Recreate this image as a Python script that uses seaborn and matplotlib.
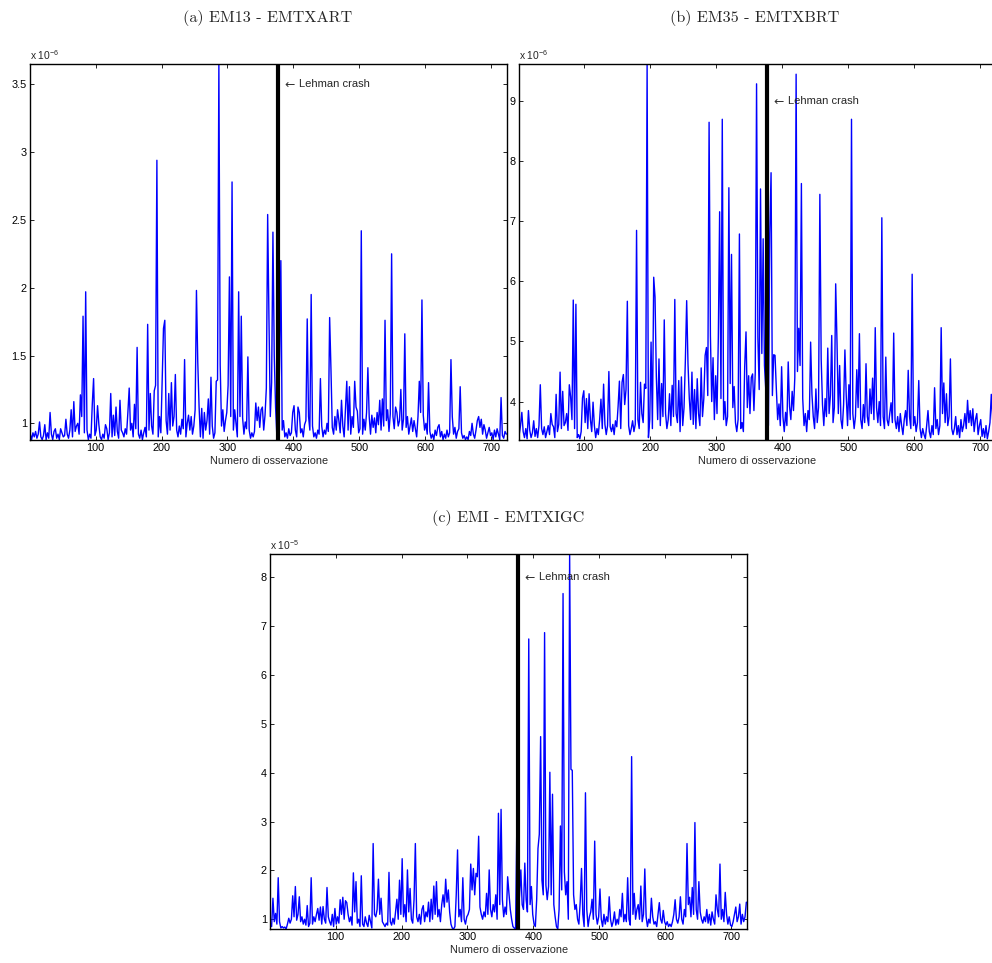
import matplotlib
matplotlib.use("Agg")
import matplotlib.pyplot as plt
import seaborn as sns
import pandas as pd

# observation numbers (every second observation)
obs = list(range(1, 724, 2))

# (a) EM13 - EMTXART, units of 1e-6
a_vals = [
    0.92, 0.88, 0.93, 0.90, 0.94, 0.89, 0.92, 1.01, 0.90, 0.88,
    0.91, 0.99, 0.88, 0.93, 0.89, 1.08, 0.92, 0.88, 0.94, 0.96,
    0.89, 0.92, 0.88, 0.96, 0.93, 0.90, 0.91, 1.03, 0.92, 0.89,
    0.95, 1.10, 0.90, 1.16, 0.94, 0.98, 1.00, 0.92, 1.21, 1.05,
    1.79, 0.93, 1.97, 0.95, 0.88, 0.92, 0.89, 1.14, 1.33, 0.91,
    0.95, 1.13, 0.99, 0.90, 0.88, 0.92, 0.89, 0.99, 0.96, 0.88,
    0.93, 1.22, 0.90, 1.06, 0.91, 1.12, 0.94, 0.89, 1.17, 0.95,
    0.93, 0.90, 0.96, 0.92, 1.08, 1.26, 0.95, 1.00, 0.90, 1.14,
    0.96, 1.56, 0.92, 0.89, 0.95, 0.88, 0.93, 0.97, 0.90, 1.73,
    0.95, 1.22, 0.98, 0.92, 1.24, 1.28, 2.94, 0.90, 1.05, 0.93,
    1.30, 1.70, 1.76, 1.02, 0.92, 1.22, 0.95, 1.30, 0.98, 1.05,
    1.36, 0.95, 0.90, 0.98, 0.92, 1.03, 0.96, 1.47, 0.90, 1.00,
    1.06, 0.95, 1.05, 0.92, 0.98, 1.10, 1.98, 1.45, 1.12, 0.90,
    1.11, 0.89, 1.08, 0.95, 1.02, 1.18, 0.92, 1.34, 0.98, 0.89,
    0.93, 1.31, 1.32, 3.65, 1.43, 0.98, 1.10, 0.94, 1.02, 1.08,
    1.28, 2.08, 1.05, 2.78, 0.95, 1.10, 1.00, 0.90, 1.97, 1.05,
    1.79, 1.04, 0.92, 1.01, 0.96, 1.49, 0.95, 0.89, 0.93, 0.90,
    0.94, 1.15, 1.02, 1.12, 0.97, 1.10, 1.12, 0.95, 1.06, 1.26,
    2.54, 1.76, 1.05, 1.30, 2.41, 1.50, 1.12, 0.90, 0.95, 1.42,
    2.20, 0.95, 1.02, 0.90, 0.93, 0.89, 0.96, 0.91, 0.93, 1.08,
    1.13, 0.95, 0.90, 1.12, 1.08, 0.93, 0.96, 0.90, 0.99, 1.02,
    1.77, 1.05, 0.95, 1.95, 0.98, 0.90, 0.93, 0.89, 0.95, 0.92,
    1.33, 0.98, 0.90, 0.95, 0.92, 1.00, 0.94, 1.78, 1.40, 0.97,
    0.92, 1.05, 0.95, 1.10, 1.02, 0.93, 1.17, 0.98, 0.90, 1.10,
    1.31, 0.95, 1.27, 0.92, 1.05, 0.97, 1.31, 1.12, 1.09, 0.93,
    0.96, 2.42, 0.92, 1.03, 0.95, 1.08, 1.41, 1.05, 0.92, 1.06,
    0.97, 1.04, 0.93, 1.08, 0.99, 1.17, 0.95, 1.18, 0.98, 1.76,
    1.02, 1.10, 0.94, 1.07, 2.25, 1.05, 0.96, 1.12, 1.08, 0.98,
    1.02, 1.25, 0.95, 1.03, 1.66, 0.97, 1.05, 0.92, 0.98, 1.04,
    0.94, 1.02, 0.96, 0.90, 1.05, 1.31, 1.08, 1.91, 1.06, 0.95,
    1.00, 0.92, 1.30, 0.94, 0.89, 0.92, 0.88, 0.95, 0.91, 0.97,
    0.99, 0.90, 0.94, 0.88, 0.92, 0.89, 0.95, 0.90, 0.93, 1.47,
    1.05, 0.92, 0.97, 0.89, 0.94, 0.96, 1.27, 0.93, 0.89, 0.91,
    0.88, 0.90, 0.88, 0.94, 0.91, 1.00, 0.92, 0.89, 0.95, 1.02,
    1.05, 0.97, 1.03, 0.92, 0.99, 0.95, 0.89, 0.93, 0.97, 0.91,
    0.93, 0.88, 0.95, 0.90, 0.96, 0.92, 0.88, 1.19, 0.91, 0.89,
    0.94, 0.92,
]

# (b) EM35 - EMTXBRT, units of 1e-6
b_vals = [
    3.45, 3.60, 3.82, 3.50, 3.40, 3.55, 3.38, 3.85, 3.52, 3.40,
    3.48, 3.68, 3.42, 3.55, 3.40, 3.60, 4.28, 3.55, 3.45, 3.58,
    3.40, 3.50, 3.60, 3.45, 3.80, 3.62, 3.58, 3.40, 4.12, 3.50,
    3.62, 4.49, 3.55, 4.17, 3.60, 3.65, 3.80, 3.52, 4.28, 4.08,
    3.70, 5.69, 3.55, 5.62, 3.40, 3.45, 3.38, 3.50, 4.06, 4.18,
    3.65, 4.05, 3.55, 4.13, 3.70, 3.50, 3.99, 3.60, 3.40, 3.55,
    3.45, 3.70, 4.04, 3.55, 4.29, 3.62, 3.45, 3.60, 4.50, 3.58,
    3.50, 3.62, 3.45, 3.68, 3.58, 3.92, 4.34, 3.55, 4.32, 4.45,
    3.95, 4.20, 5.67, 3.60, 3.45, 3.55, 3.68, 3.50, 3.62, 6.85,
    3.70, 3.55, 4.32, 3.80, 3.65, 4.29, 4.22, 9.62, 3.40, 3.70,
    4.99, 3.55, 6.07, 5.74, 4.41, 3.70, 4.71, 3.60, 4.30, 3.75,
    5.36, 3.80, 3.55, 3.70, 4.13, 3.60, 4.27, 3.75, 5.70, 3.80,
    3.65, 4.35, 3.50, 4.41, 3.60, 3.90, 4.68, 5.68, 4.63, 4.05,
    3.70, 4.49, 3.62, 4.20, 3.55, 4.38, 3.80, 3.60, 4.56, 3.75,
    4.05, 4.77, 4.90, 4.10, 8.65, 5.10, 4.00, 4.73, 3.70, 4.43,
    3.80, 5.06, 7.16, 4.05, 8.70, 3.70, 4.00, 3.60, 3.75, 7.56,
    4.30, 6.45, 3.90, 4.25, 3.65, 3.50, 3.70, 6.79, 3.55, 3.65,
    3.50, 4.58, 5.16, 3.90, 4.43, 3.80, 4.40, 4.46, 3.85, 4.48,
    9.29, 5.07, 4.20, 7.54, 4.80, 6.71, 4.60, 4.20, 3.80, 3.60,
    6.80, 7.81, 4.10, 4.78, 4.77, 4.21, 3.70, 3.96, 3.60, 4.58,
    3.75, 3.50, 3.82, 3.60, 4.66, 3.92, 3.70, 4.17, 3.85, 4.40,
    9.45, 4.50, 5.22, 4.60, 7.63, 4.05, 3.60, 3.80, 3.50, 3.85,
    3.70, 4.99, 4.12, 3.75, 3.55, 4.21, 3.65, 3.90, 7.45, 4.71,
    3.95, 3.60, 4.05, 3.75, 4.89, 3.80, 4.10, 5.10, 3.65, 3.90,
    5.96, 4.99, 3.80, 4.60, 3.70, 3.55, 3.95, 4.86, 4.10, 3.60,
    4.28, 3.70, 8.70, 3.80, 3.55, 3.75, 4.53, 3.90, 5.13, 3.70,
    3.55, 3.95, 3.65, 4.63, 3.75, 3.60, 4.21, 3.80, 4.39, 3.70,
    5.23, 3.90, 3.65, 4.00, 3.60, 7.06, 3.75, 3.55, 4.74, 3.70,
    3.60, 3.80, 3.98, 3.65, 5.14, 3.70, 3.55, 3.75, 3.50, 3.80,
    3.60, 3.45, 3.70, 3.85, 3.60, 4.52, 3.75, 3.55, 6.12, 3.60,
    3.75, 3.50, 3.65, 4.35, 3.55, 3.40, 3.55, 3.45, 3.38, 3.60,
    3.85, 3.50, 3.40, 3.60, 3.45, 4.23, 3.55, 3.70, 3.45, 3.60,
    5.23, 3.80, 4.31, 3.65, 4.13, 3.60, 3.75, 4.71, 3.55, 3.45,
    3.55, 3.75, 3.45, 3.60, 3.40, 3.70, 3.50, 3.60, 3.80, 3.55,
    4.02, 3.65, 3.85, 3.60, 3.88, 3.50, 3.70, 3.80, 3.45, 3.60,
    3.70, 3.42, 3.55, 3.40, 3.60, 3.38, 3.50, 3.65, 4.12, 3.70,
    3.55, 3.60,
]

# (c) EMI - EMTXIGC, units of 1e-5
c_vals = [
    0.92, 0.85, 1.43, 0.95, 1.12, 0.90, 1.85, 0.95, 0.82, 0.85,
    0.82, 0.84, 0.80, 0.90, 1.02, 0.92, 1.00, 1.48, 1.05, 1.67,
    0.98, 1.10, 1.46, 0.95, 1.05, 0.90, 1.00, 0.88, 1.28, 0.85,
    0.92, 1.85, 0.90, 1.05, 0.95, 1.10, 1.22, 0.98, 1.25, 0.90,
    1.26, 1.00, 0.92, 1.65, 1.05, 0.95, 0.88, 1.10, 0.85, 1.22,
    0.90, 1.05, 0.92, 1.40, 1.10, 1.45, 1.00, 1.38, 1.34, 1.10,
    0.95, 1.05, 0.88, 1.95, 1.15, 1.77, 0.92, 1.00, 0.85, 1.89,
    0.90, 0.85, 1.05, 0.92, 0.85, 1.08, 0.95, 0.82, 2.55, 1.10,
    1.05, 1.20, 1.82, 1.10, 1.43, 0.95, 0.90, 0.85, 0.92, 0.88,
    1.96, 0.95, 0.88, 1.02, 0.90, 1.15, 1.41, 1.00, 1.80, 1.10,
    2.24, 1.05, 1.30, 0.95, 2.01, 1.15, 1.63, 1.00, 0.92, 1.40,
    2.55, 1.05, 0.95, 1.10, 0.90, 1.20, 1.28, 0.95, 1.15, 1.05,
    1.35, 0.95, 1.41, 1.00, 1.68, 1.10, 1.77, 1.05, 1.20, 0.95,
    1.30, 1.50, 1.25, 1.82, 1.35, 1.60, 1.15, 0.90, 0.82, 0.80,
    0.85, 1.50, 2.42, 1.05, 1.20, 0.95, 1.85, 1.00, 0.90, 1.05,
    1.10, 1.20, 2.13, 1.60, 2.04, 1.50, 1.94, 1.87, 2.70, 1.25,
    1.10, 1.00, 1.15, 1.05, 1.53, 1.10, 2.01, 1.20, 1.05, 1.30,
    1.15, 1.50, 1.00, 3.17, 1.30, 3.25, 1.40, 1.05, 1.25, 1.10,
    1.87, 1.52, 1.20, 1.00, 0.85, 0.82, 0.80, 3.03, 1.10, 1.50,
    2.01, 1.30, 1.20, 2.15, 1.40, 1.15, 6.74, 1.30, 1.67, 1.10,
    0.90, 0.85, 1.40, 2.45, 2.74, 4.74, 1.80, 1.50, 6.87, 1.70,
    1.40, 1.67, 4.01, 1.50, 3.56, 1.30, 1.05, 0.85, 0.80, 1.20,
    2.91, 1.60, 7.67, 1.97, 1.50, 1.77, 1.00, 8.48, 4.07, 4.05,
    1.50, 1.20, 1.30, 1.00, 0.90, 1.35, 2.04, 1.10, 0.85, 3.59,
    1.20, 0.85, 1.05, 1.15, 1.41, 1.00, 2.60, 1.10, 0.90, 1.05,
    1.62, 1.00, 0.85, 1.10, 0.90, 1.05, 0.95, 1.46, 1.00, 0.85,
    0.95, 1.15, 0.88, 1.00, 0.90, 1.20, 1.05, 1.53, 0.95, 1.10,
    0.95, 1.85, 1.00, 0.88, 4.33, 1.10, 1.53, 1.00, 1.20, 1.30,
    1.00, 1.68, 0.95, 1.10, 2.03, 1.05, 0.85, 1.00, 0.92, 1.43,
    1.05, 0.90, 0.95, 0.85, 1.10, 1.34, 1.00, 0.92, 1.18, 0.95,
    0.88, 0.95, 0.85, 0.90, 0.85, 0.95, 1.10, 1.40, 1.00, 0.92,
    1.05, 1.46, 1.00, 0.90, 1.20, 1.05, 2.55, 1.30, 1.45, 1.05,
    1.65, 1.10, 2.98, 1.20, 1.00, 1.77, 1.15, 1.00, 0.92, 1.05,
    0.95, 1.20, 0.92, 1.10, 0.88, 1.15, 1.00, 0.90, 1.50, 1.20,
    1.05, 2.13, 1.00, 1.20, 0.95, 1.55, 1.10, 0.90, 1.05, 0.88,
    0.85, 0.95, 1.10, 1.25, 0.95, 1.05, 1.31, 0.90, 1.10, 0.95,
    1.05, 1.35,
]

titles = ["(a) EM13 - EMTXART", "(b) EM35 - EMTXBRT", "(c) EMI - EMTXIGC"]
exponents = [-6, -6, -5]
y_limits = [(0.877, 3.65), (3.36, 9.62), (0.80, 8.48)]
y_ticks = [[1, 1.5, 2, 2.5, 3, 3.5], [4, 5, 6, 7, 8, 9], [1, 2, 3, 4, 5, 6, 7, 8]]
y_ticklabels = [["1", "1.5", "2", "2.5", "3", "3.5"],
                ["4", "5", "6", "7", "8", "9"],
                ["1", "2", "3", "4", "5", "6", "7", "8"]]
x_ticks = [100, 200, 300, 400, 500, 600, 700]
lehman_obs = 377
lehman_label = "Lehman crash"
xlabel = "Numero di osservazione"

sns.set_style("ticks")
plt.rcParams["font.family"] = ["Liberation Sans", "DejaVu Sans"]
plt.rcParams["mathtext.default"] = "regular"

fig = plt.figure(figsize=(9.92, 9.63), dpi=100)
W, H = 992.0, 963.0
boxes = [
    (30.3, 64, 476.7, 376),
    (519.2, 64, 476.7, 376),
    (270.3, 554, 476.7, 375),
]
title_pos = [(268, 18), (755, 18), (508, 518)]

series = [a_vals, b_vals, c_vals]
small = 7.8
for k in range(3):
    x0, y0, w, h = boxes[k]
    ax = fig.add_axes([x0 / W, 1 - (y0 + h) / H, w / W, h / H])
    df = pd.DataFrame({"obs": obs, "val": series[k]})
    sns.lineplot(data=df, x="obs", y="val", ax=ax, color="#0000ff",
                 linewidth=1.0, estimator=None, sort=False)
    ax.axvline(lehman_obs, color="black", linewidth=3.0, zorder=3)
    ax.set_xlim(1, 724)
    ax.set_ylim(*y_limits[k])
    ax.set_xticks(x_ticks)
    ax.set_xticklabels([str(t) for t in x_ticks])
    ax.set_yticks(y_ticks[k])
    ax.set_yticklabels(y_ticklabels[k])
    ax.tick_params(direction="in", length=3.2, width=0.6, labelsize=small,
                   top=True, right=True, pad=2.5, colors="black")
    ax.set_xlabel(xlabel, fontsize=small, labelpad=1.5)
    ax.set_ylabel("")
    for s in ax.spines.values():
        s.set_linewidth(1.0)
        s.set_color("black")
    ax.text(0.0, 1.006, "x 10$^{%d}$" % exponents[k], transform=ax.transAxes,
            fontsize=small - 0.4, ha="left", va="bottom")
    ytop = y_ticks[k][-1]
    ax.text(lehman_obs + 9, ytop, "\u2190", fontsize=small + 1.0,
            ha="left", va="center", family=["DejaVu Sans"], color="#333333")
    ax.annotate(lehman_label, xy=(lehman_obs + 9, ytop), xytext=(11, 0),
                textcoords="offset points", fontsize=small + 0.2,
                ha="left", va="center")
    tx, ty = title_pos[k]
    fig.text(tx / W, 1 - ty / H, titles[k], fontsize=11.6, family="cmr10",
             ha="center", va="center")

fig.savefig("out.png", dpi=100)
